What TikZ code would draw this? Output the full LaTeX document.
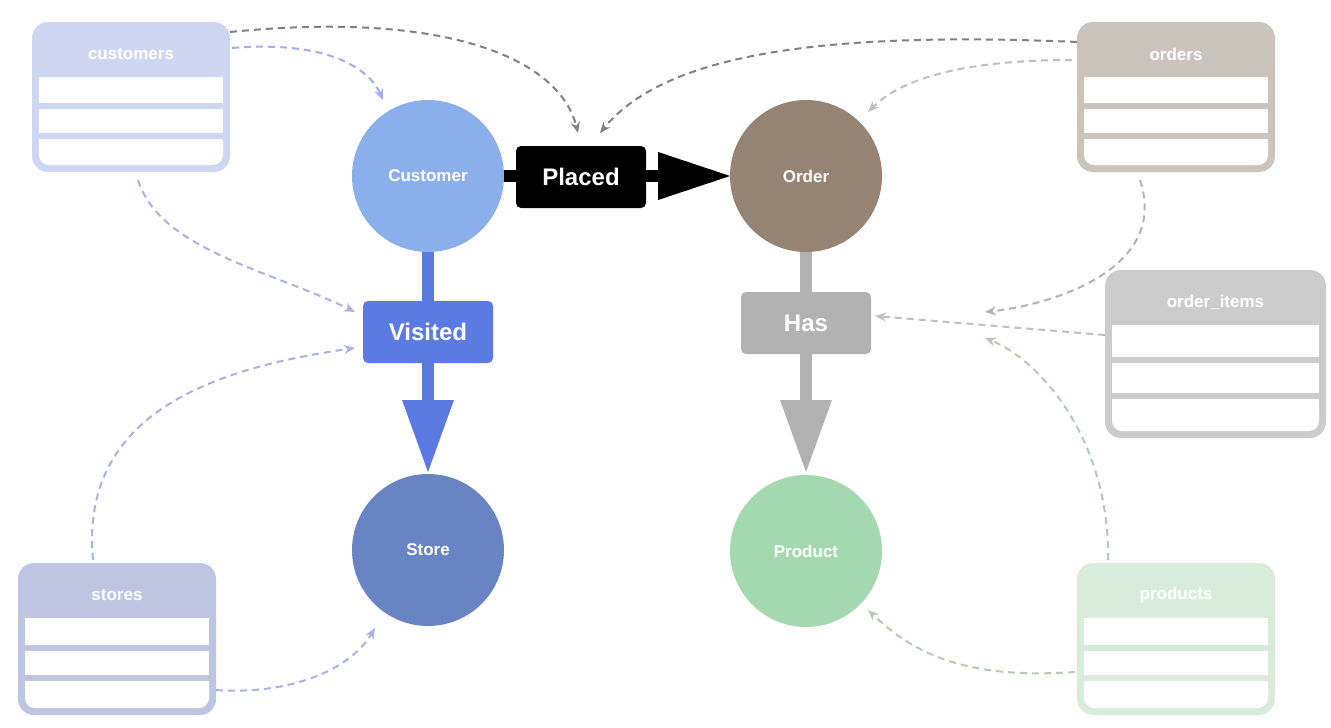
\documentclass[tikz,border=0pt]{standalone}
\usepackage{fontspec}
\setmainfont{Liberation Sans}
\usetikzlibrary{arrows.meta}
\begin{document}
\begin{tikzpicture}[x=1pt,y=-1pt,
 circ/.style={circle,minimum size=152pt,inner sep=0pt,text=white,font=\bfseries\fontsize{17}{17}\selectfont},
 lbl/.style={rounded corners=5pt,minimum width=130pt,minimum height=62pt,text=white,font=\bfseries\fontsize{24}{24}\selectfont},
 da/.style={dashed,line width=2pt,dash pattern=on 7pt off 5pt,-{Stealth[length=11pt,width=9pt]}},
 tab/.style={line width=6pt,rounded corners=14pt}]
\useasboundingbox (0,0) rectangle (1331,728);
\newcommand{\tbl}[7]{%
 \fill[#6,rounded corners=16pt] (#1,#2) rectangle (#3,#4);
 \fill[white] ({#1+7},{#2+55}) rectangle ({#3-7},{#4-28});
 \fill[white,rounded corners=10pt] ({#1+7},{#4-40}) rectangle ({#3-7},{#4-7});
 \pgfmathsetmacro{\h}{(#4-#2-55-7)/3}
 \foreach \i in {1,2}{\fill[#6] ({#1+7},{#2+55+\i*\h-3}) rectangle ({#3-7},{#2+55+\i*\h+3});}
 \node[text=white,font=\bfseries\fontsize{17}{17}\selectfont] (#7) at ({(#1+#3)/2},{#2+32}) {#5};}
\definecolor{cC}{HTML}{CDD7F2}\definecolor{cO}{HTML}{CBC4BC}
\definecolor{cI}{HTML}{CCCCCC}\definecolor{cS}{HTML}{BEC5E0}\definecolor{cP}{HTML}{D9ECDB}
\definecolor{cuC}{HTML}{8AAFEA}\definecolor{orC}{HTML}{958374}
\definecolor{stC}{HTML}{6884C2}\definecolor{prC}{HTML}{A4D8AE}
\tbl{32}{22}{230}{172}{customers}{cC}{tc}
\tbl{1077}{22}{1275}{172}{orders}{cO}{to}
\tbl{1105}{270}{1326}{438}{order\_items}{cI}{ti}
\tbl{18}{563}{216}{715}{stores}{cS}{ts}
\tbl{1077}{563}{1275}{715}{products}{cP}{tp}
\node[circ,fill=cuC] (cu) at (428,176) {Customer};
\node[circ,fill=orC] (or) at (806,176) {Order};
\node[circ,fill=stC] (st) at (428,550) {Store};
\node[circ,fill=prC] (pr) at (806,551) {Product};
\draw[line width=12pt] (cu.east) -- (660,176);
\fill (658,152) -- (730,176) -- (658,200) -- cycle;
\node[lbl,fill=black] (pl) at (581,177) {Placed};
\definecolor{vb}{HTML}{5B7BE3}
\draw[vb,line width=12pt] (cu.south) -- (428,402);
\fill[vb] (402,400) -- (428,472) -- (454,400) -- cycle;
\node[lbl,fill=vb] (vi) at (428,332) {Visited};
\draw[black!30,line width=12pt] (or.south) -- (806,402);
\fill[black!30] (780,400) -- (806,472) -- (832,400) -- cycle;
\node[lbl,fill=black!30] (ha) at (806,323) {Has};
\coordinate (pa) at (578,133); \coordinate (pb) at (600,133);
\coordinate (vl1) at (355,312); \coordinate (vl2) at (355,348);
\coordinate (hr1) at (985,312); \coordinate (hr2) at (985,338);
\draw[da,black!50] (230,32) .. controls (450,10) and (560,60) .. (pa);
\draw[da,cC!80!blue] (232,48) .. controls (330,40) and (370,70) .. (383,100);
\draw[da,cS!90!blue] (138,180) .. controls (160,250) and (270,270) .. (vl1);
\draw[da,cS!90!blue] (93,560) .. controls (80,420) and (200,370) .. (vl2);
\draw[da,cS!90!blue] (216,690) .. controls (290,695) and (350,670) .. (375,628);
\draw[da,black!50] (1077,42) .. controls (800,30) and (660,60) .. (pb);
\draw[da,black!25] (1072,60) .. controls (960,60) and (900,80) .. (868,112);
\draw[da,black!30] (1140,180) .. controls (1170,270) and (1050,305) .. (hr1);
\draw[da,black!25] (1105,335) -- (875,316);
\draw[da,cP!85!black] (1108,560) .. controls (1110,440) and (1040,360) .. (hr2);
\draw[da,cP!85!black] (1075,672) .. controls (960,680) and (910,650) .. (868,610);
\end{tikzpicture}
\end{document}
